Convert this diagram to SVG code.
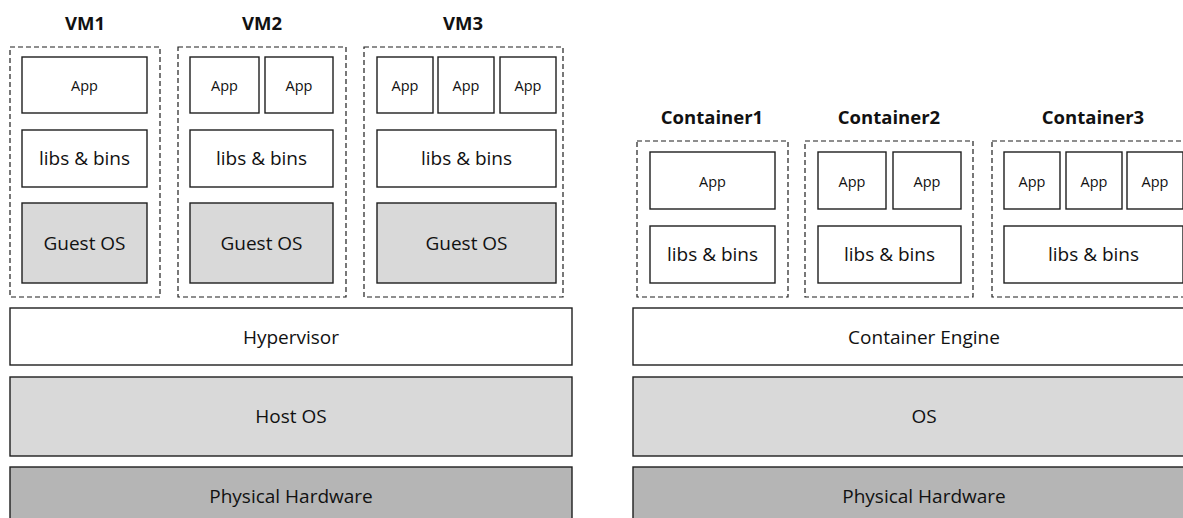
<svg xmlns="http://www.w3.org/2000/svg" width="1183" height="518" viewBox="0 0 1183 518">
  <style>
    text { font-family: "Open Sans", "Liberation Sans", sans-serif; fill: #111; text-anchor: middle; dominant-baseline: central; }
    .hdr { font-weight: bold; font-size: 18.5px; dominant-baseline: alphabetic; }
    .sm { font-size: 14.5px; }
    .md { font-size: 19px; }
    .box { fill: #fff; stroke: #1e1e1e; stroke-width: 1.4; }
    .grey { fill: #d9d9d9; stroke: #1e1e1e; stroke-width: 1.4; }
    .dark { fill: #b5b5b5; stroke: #1e1e1e; stroke-width: 1.4; }
    .dash { fill: none; stroke: #1e1e1e; stroke-width: 1.2; stroke-dasharray: 5 3; }
  </style>
  <rect width="1183" height="518" fill="#fff"/>

  <!-- Virtual machine stack -->
  <g id="vm1">
    <text class="hdr" x="85" y="30">VM1</text>
    <rect class="dash" x="10" y="47" width="150" height="250"/>
    <rect class="box" x="22" y="57" width="125" height="56"/>
    <text class="sm" x="84.5" y="85">App</text>
    <rect class="box" x="22" y="130" width="125" height="57"/>
    <text class="md" x="84.5" y="158">libs &amp; bins</text>
    <rect class="grey" x="22" y="203" width="125" height="80"/>
    <text class="md" x="84.5" y="243">Guest OS</text>
  </g>
  <g id="vm2">
    <text class="hdr" x="262" y="30">VM2</text>
    <rect class="dash" x="178" y="47" width="168" height="250"/>
    <rect class="box" x="190" y="57" width="69" height="56"/>
    <text class="sm" x="224.5" y="85">App</text>
    <rect class="box" x="265" y="57" width="68" height="56"/>
    <text class="sm" x="299" y="85">App</text>
    <rect class="box" x="190" y="130" width="143" height="57"/>
    <text class="md" x="261.5" y="158">libs &amp; bins</text>
    <rect class="grey" x="190" y="203" width="143" height="80"/>
    <text class="md" x="261.5" y="243">Guest OS</text>
  </g>
  <g id="vm3">
    <text class="hdr" x="463" y="30">VM3</text>
    <rect class="dash" x="364" y="47" width="199" height="250"/>
    <rect class="box" x="377" y="57" width="56" height="56"/>
    <text class="sm" x="405" y="85">App</text>
    <rect class="box" x="438" y="57" width="56" height="56"/>
    <text class="sm" x="466" y="85">App</text>
    <rect class="box" x="500" y="57" width="56" height="56"/>
    <text class="sm" x="528" y="85">App</text>
    <rect class="box" x="377" y="130" width="179" height="57"/>
    <text class="md" x="466.5" y="158">libs &amp; bins</text>
    <rect class="grey" x="377" y="203" width="179" height="80"/>
    <text class="md" x="466.5" y="243">Guest OS</text>
  </g>
  <g id="hypervisor">
    <rect class="box" x="10" y="308" width="562" height="57"/>
    <text class="md" x="291" y="337">Hypervisor</text>
  </g>
  <g id="host-os">
    <rect class="grey" x="10" y="377" width="562" height="79"/>
    <text class="md" x="291" y="416">Host OS</text>
  </g>
  <g id="hardware-left">
    <rect class="dark" x="10" y="467" width="562" height="70"/>
    <text class="md" x="291" y="496">Physical Hardware</text>
  </g>

  <!-- Container stack -->
  <g id="container1">
    <text class="hdr" x="712" y="124">Container1</text>
    <rect class="dash" x="637" y="141" width="151" height="156"/>
    <rect class="box" x="650" y="152" width="125" height="57"/>
    <text class="sm" x="712.5" y="181">App</text>
    <rect class="box" x="650" y="226" width="125" height="57"/>
    <text class="md" x="712.5" y="254">libs &amp; bins</text>
  </g>
  <g id="container2">
    <text class="hdr" x="889" y="124">Container2</text>
    <rect class="dash" x="805" y="141" width="168" height="156"/>
    <rect class="box" x="818" y="152" width="68" height="57"/>
    <text class="sm" x="852" y="181">App</text>
    <rect class="box" x="893" y="152" width="68" height="57"/>
    <text class="sm" x="927" y="181">App</text>
    <rect class="box" x="818" y="226" width="143" height="57"/>
    <text class="md" x="889.5" y="254">libs &amp; bins</text>
  </g>
  <g id="container3">
    <text class="hdr" x="1093" y="124">Container3</text>
    <rect class="dash" x="992" y="141" width="199" height="156"/>
    <rect class="box" x="1004" y="152" width="56" height="57"/>
    <text class="sm" x="1032" y="181">App</text>
    <rect class="box" x="1066" y="152" width="56" height="57"/>
    <text class="sm" x="1094" y="181">App</text>
    <rect class="box" x="1127" y="152" width="56" height="57"/>
    <text class="sm" x="1155" y="181">App</text>
    <rect class="box" x="1004" y="226" width="179" height="57"/>
    <text class="md" x="1093.5" y="254">libs &amp; bins</text>
  </g>
  <g id="container-engine">
    <rect class="box" x="633" y="308" width="562" height="57"/>
    <text class="md" x="924" y="337">Container Engine</text>
  </g>
  <g id="os">
    <rect class="grey" x="633" y="377" width="562" height="79"/>
    <text class="md" x="924" y="416">OS</text>
  </g>
  <g id="hardware-right">
    <rect class="dark" x="633" y="467" width="562" height="70"/>
    <text class="md" x="924" y="496">Physical Hardware</text>
  </g>

  <!-- no connectors in this layered stack -->
  <g id="connectors"/>
</svg>
